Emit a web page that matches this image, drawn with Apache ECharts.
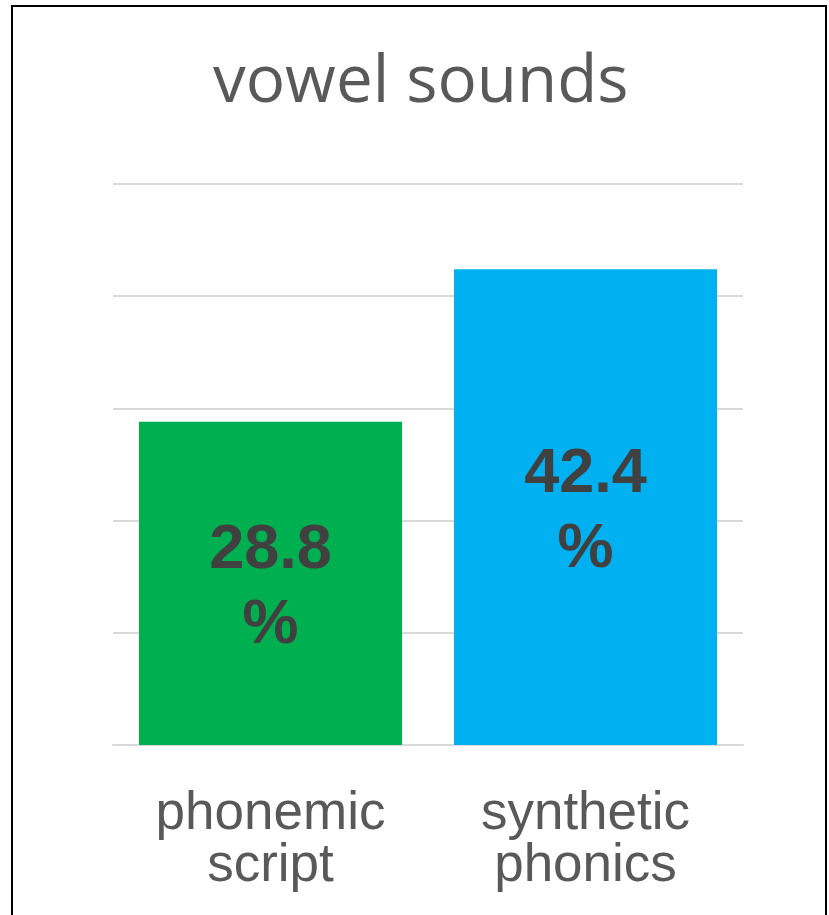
<!DOCTYPE html>
<html>
<head>
<meta charset="utf-8">
<script src="https://cdn.jsdelivr.net/npm/echarts@6/dist/echarts.min.js"></script>
<style>
html,body{margin:0;padding:0;background:#fff;}
#chart{width:829px;height:915px;}
</style>
</head>
<body>
<div id="chart"></div>
<script>
const titleText = 'vowel sounds';
const categories = ['phonemic\nscript', 'synthetic\nphonics'];
const values = [28.8, 42.4];
const barColors = ['#00B050', '#00B0F0'];
const yMin = 0, yMax = 50, yInterval = 10;

const chart = echarts.init(document.getElementById('chart'), null, {renderer: 'canvas'});
chart.setOption({
  animation: false,
  backgroundColor: '#ffffff',
  title: {
    text: titleText,
    left: 208,
    top: 45,
    textStyle: {fontFamily: 'Open Sans', fontWeight: 'normal', fontSize: 65.5, color: '#595959'}
  },
  graphic: [{
    type: 'rect',
    shape: {x: 12, y: 6, width: 814, height: 940},
    style: {fill: 'none', stroke: '#000', lineWidth: 2},
    silent: true, z: 100
  }],
  grid: {left: 113, right: 86, top: 184, bottom: 170},
  xAxis: {
    type: 'category',
    data: categories,
    axisLine: {show: true, lineStyle: {color: '#D9D9D9', width: 2}},
    axisTick: {show: false},
    axisLabel: {
      margin: 43, fontFamily: 'Liberation Sans, Arial', fontSize: 53, lineHeight: 52, color: '#595959'
    }
  },
  yAxis: {
    type: 'value', min: yMin, max: yMax, interval: yInterval,
    axisLabel: {show: false}, axisLine: {show: false}, axisTick: {show: false},
    splitLine: {lineStyle: {color: '#D9D9D9', width: 2}}
  },
  series: [{
    type: 'bar',
    data: values.map((v, i) => ({value: v, itemStyle: {color: barColors[i]}})),
    barCategoryGap: '16.5%',
    label: {
      show: true, position: 'inside', offset: [0, 5],
      formatter: p => p.value + '\n%',
      fontFamily: 'Liberation Sans, Arial', fontWeight: 'bold', fontSize: 63, lineHeight: 75,
      color: '#404040'
    }
  }]
});
</script>
</body>
</html>
